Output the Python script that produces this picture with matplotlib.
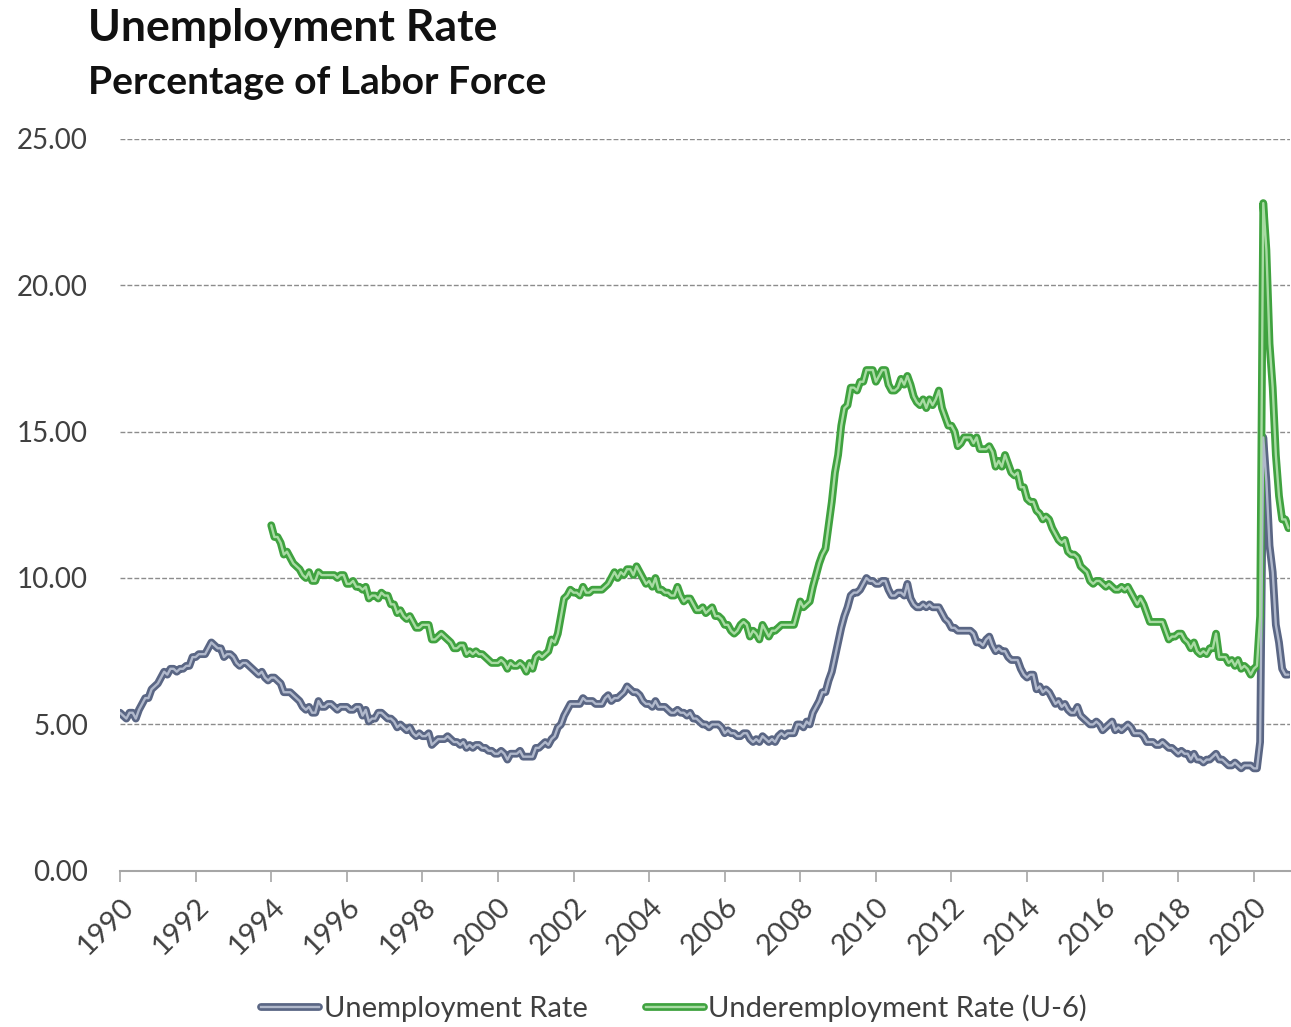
import numpy as np
import matplotlib
matplotlib.use("Agg")
import matplotlib.pyplot as plt
from matplotlib.lines import Line2D
from matplotlib.legend_handler import HandlerTuple

# Monthly civilian unemployment rate (U-3), Jan 1990 - Dec 2020, percent
unemployment = [
    5.4, 5.3, 5.2, 5.4, 5.4, 5.2, 5.5, 5.7, 5.9, 5.9, 6.2, 6.3,
    6.4, 6.6, 6.8, 6.7, 6.9, 6.9, 6.8, 6.9, 6.9, 7.0, 7.0, 7.3,
    7.3, 7.4, 7.4, 7.4, 7.6, 7.8, 7.7, 7.6, 7.6, 7.3, 7.4, 7.4,
    7.3, 7.1, 7.0, 7.1, 7.1, 7.0, 6.9, 6.8, 6.7, 6.8, 6.6, 6.5,
    6.6, 6.6, 6.5, 6.4, 6.1, 6.1, 6.1, 6.0, 5.9, 5.8, 5.6, 5.5,
    5.6, 5.4, 5.4, 5.8, 5.6, 5.6, 5.7, 5.7, 5.6, 5.5, 5.6, 5.6,
    5.6, 5.5, 5.5, 5.6, 5.6, 5.3, 5.5, 5.1, 5.2, 5.2, 5.4, 5.4,
    5.3, 5.2, 5.2, 5.1, 4.9, 5.0, 4.9, 4.8, 4.9, 4.7, 4.6, 4.7,
    4.6, 4.6, 4.7, 4.3, 4.4, 4.5, 4.5, 4.5, 4.6, 4.5, 4.4, 4.4,
    4.3, 4.4, 4.2, 4.3, 4.2, 4.3, 4.3, 4.2, 4.2, 4.1, 4.1, 4.0,
    4.0, 4.1, 4.0, 3.8, 4.0, 4.0, 4.0, 4.1, 3.9, 3.9, 3.9, 3.9,
    4.2, 4.2, 4.3, 4.4, 4.3, 4.5, 4.6, 4.9, 5.0, 5.3, 5.5, 5.7,
    5.7, 5.7, 5.7, 5.9, 5.8, 5.8, 5.8, 5.7, 5.7, 5.7, 5.9, 6.0,
    5.8, 5.9, 5.9, 6.0, 6.1, 6.3, 6.2, 6.1, 6.1, 6.0, 5.8, 5.7,
    5.7, 5.6, 5.8, 5.6, 5.6, 5.6, 5.5, 5.4, 5.4, 5.5, 5.4, 5.4,
    5.3, 5.4, 5.2, 5.2, 5.1, 5.0, 5.0, 4.9, 5.0, 5.0, 5.0, 4.9,
    4.7, 4.8, 4.7, 4.7, 4.6, 4.6, 4.7, 4.7, 4.5, 4.4, 4.5, 4.4,
    4.6, 4.5, 4.4, 4.5, 4.4, 4.6, 4.7, 4.6, 4.7, 4.7, 4.7, 5.0,
    5.0, 4.9, 5.1, 5.0, 5.4, 5.6, 5.8, 6.1, 6.1, 6.5, 6.8, 7.3,
    7.8, 8.3, 8.7, 9.0, 9.4, 9.5, 9.5, 9.6, 9.8, 10.0, 9.9, 9.9,
    9.8, 9.8, 9.9, 9.9, 9.6, 9.4, 9.4, 9.5, 9.5, 9.4, 9.8, 9.3,
    9.1, 9.0, 9.0, 9.1, 9.0, 9.1, 9.0, 9.0, 9.0, 8.8, 8.6, 8.5,
    8.3, 8.3, 8.2, 8.2, 8.2, 8.2, 8.2, 8.1, 7.8, 7.8, 7.7, 7.9,
    8.0, 7.7, 7.5, 7.6, 7.5, 7.5, 7.3, 7.2, 7.2, 7.2, 6.9, 6.7,
    6.6, 6.7, 6.7, 6.2, 6.3, 6.1, 6.2, 6.1, 5.9, 5.7, 5.8, 5.6,
    5.7, 5.5, 5.4, 5.4, 5.6, 5.3, 5.2, 5.1, 5.0, 5.0, 5.1, 5.0,
    4.8, 4.9, 5.0, 5.1, 4.8, 4.9, 4.8, 4.9, 5.0, 4.9, 4.7, 4.7,
    4.7, 4.6, 4.4, 4.4, 4.4, 4.3, 4.3, 4.4, 4.3, 4.2, 4.2, 4.1,
    4.0, 4.1, 4.0, 4.0, 3.8, 4.0, 3.8, 3.8, 3.7, 3.8, 3.8, 3.9,
    4.0, 3.8, 3.8, 3.7, 3.6, 3.6, 3.7, 3.6, 3.5, 3.6, 3.6, 3.6,
    3.5, 3.5, 4.4, 14.8, 13.3, 11.1, 10.2, 8.4, 7.8, 6.9, 6.7, 6.7,
]

# Monthly U-6 underemployment rate, Jan 1994 - Dec 2020, percent
underemployment = [
    11.8, 11.4, 11.4, 11.2, 10.8, 10.9, 10.7, 10.5, 10.4, 10.3, 10.1, 10.0,
    10.2, 9.9, 9.9, 10.2, 10.1, 10.1, 10.1, 10.1, 10.1, 10.0, 10.1, 10.1,
    9.8, 9.8, 9.9, 9.7, 9.7, 9.6, 9.7, 9.3, 9.4, 9.4, 9.3, 9.5,
    9.4, 9.4, 9.1, 9.1, 8.8, 8.9, 8.7, 8.6, 8.7, 8.5, 8.3, 8.3,
    8.4, 8.4, 8.4, 7.9, 7.9, 8.0, 8.1, 8.0, 7.9, 7.8, 7.6, 7.6,
    7.7, 7.7, 7.4, 7.5, 7.4, 7.5, 7.4, 7.4, 7.3, 7.2, 7.1, 7.1,
    7.1, 7.2, 7.1, 6.9, 7.1, 7.0, 7.0, 7.1, 7.0, 6.8, 7.1, 6.9,
    7.3, 7.4, 7.3, 7.4, 7.5, 7.9, 7.8, 8.1, 8.7, 9.3, 9.4, 9.6,
    9.5, 9.5, 9.4, 9.7, 9.5, 9.5, 9.6, 9.6, 9.6, 9.6, 9.7, 9.8,
    10.0, 10.2, 10.0, 10.2, 10.1, 10.3, 10.3, 10.1, 10.4, 10.2, 10.0, 9.8,
    9.9, 9.7, 10.0, 9.6, 9.6, 9.5, 9.5, 9.4, 9.4, 9.7, 9.4, 9.2,
    9.3, 9.3, 9.1, 8.9, 8.9, 9.0, 8.8, 8.9, 9.0, 8.7, 8.7, 8.6,
    8.4, 8.4, 8.2, 8.1, 8.2, 8.4, 8.5, 8.4, 8.0, 8.2, 8.1, 7.9,
    8.4, 8.2, 8.0, 8.2, 8.2, 8.3, 8.4, 8.4, 8.4, 8.4, 8.4, 8.8,
    9.2, 9.0, 9.1, 9.2, 9.7, 10.1, 10.5, 10.8, 11.0, 11.8, 12.6, 13.6,
    14.2, 15.2, 15.8, 15.9, 16.5, 16.5, 16.4, 16.7, 16.7, 17.1, 17.1, 17.1,
    16.7, 16.9, 17.1, 17.1, 16.6, 16.4, 16.4, 16.5, 16.8, 16.6, 16.9, 16.6,
    16.2, 16.0, 15.9, 16.1, 15.8, 16.1, 15.9, 16.1, 16.4, 15.8, 15.5, 15.2,
    15.2, 15.0, 14.5, 14.6, 14.8, 14.8, 14.8, 14.6, 14.8, 14.4, 14.4, 14.4,
    14.5, 14.3, 13.8, 14.0, 13.8, 14.2, 13.9, 13.6, 13.5, 13.6, 13.1, 13.1,
    12.7, 12.6, 12.6, 12.3, 12.2, 12.0, 12.1, 12.0, 11.7, 11.5, 11.3, 11.2,
    11.3, 10.9, 10.8, 10.8, 10.7, 10.4, 10.3, 10.2, 9.9, 9.8, 9.9, 9.9,
    9.8, 9.7, 9.8, 9.7, 9.6, 9.6, 9.7, 9.6, 9.7, 9.5, 9.3, 9.1,
    9.3, 9.1, 8.8, 8.5, 8.5, 8.5, 8.5, 8.5, 8.2, 7.9, 8.0, 8.0,
    8.1, 8.1, 7.9, 7.8, 7.6, 7.8, 7.5, 7.4, 7.5, 7.4, 7.6, 7.6,
    8.1, 7.3, 7.3, 7.3, 7.1, 7.2, 7.0, 7.2, 6.9, 7.0, 6.9, 6.7,
    6.9, 7.0, 8.7, 22.8, 21.2, 18.0, 16.5, 14.2, 12.8, 12.0, 12.0, 11.7,
]

start_u3, start_u6 = 1990, 1994
year_ticks = list(range(1990, 2021, 2))
y_ticks = [0, 5, 10, 15, 20, 25]

series_labels = ["Unemployment Rate", "Underemployment Rate (U-6)"]
title = "Unemployment Rate"
subtitle = "Percentage of Labor Force"

# outer / inner colours of the double-stroke lines
u3_outer, u3_inner = "#5a6684", "#b0b8cb"
u6_outer, u6_inner = "#3fa23f", "#a8dba3"

FONT = "Lato"
plt.rcParams["font.family"] = [FONT, "DejaVu Sans"]

fig = plt.figure(figsize=(12.91, 10.27), dpi=100)
ax = fig.add_axes([0.093, 0.152, 0.906, 0.713])

x_u3 = start_u3 + np.arange(len(unemployment)) / 12.0
x_u6 = start_u6 + np.arange(len(underemployment)) / 12.0

outer_w, inner_w = 5.6, 1.7
for x, y, oc, ic in [(x_u3, unemployment, u3_outer, u3_inner),
                     (x_u6, underemployment, u6_outer, u6_inner)]:
    ax.plot(x, y, color=oc, lw=outer_w, solid_joinstyle="round",
            solid_capstyle="round", zorder=3)
    ax.plot(x, y, color=ic, lw=inner_w, solid_joinstyle="round",
            solid_capstyle="round", zorder=4)

ax.set_xlim(1990, 2020.95)
ax.set_ylim(0, 25)

ax.set_yticks(y_ticks)
ax.set_yticklabels([f"{v:.2f}" for v in y_ticks])
ax.set_xticks(year_ticks)
ax.set_xticklabels([str(y) for y in year_ticks], rotation=45, ha="right",
                   rotation_mode="anchor")

for v in y_ticks[1:]:
    ax.axhline(v, color="#8c8c8c", lw=1.0, ls=(0, (3.5, 1.5)), zorder=1)

for s in ["top", "right", "left"]:
    ax.spines[s].set_visible(False)
ax.spines["bottom"].set_color("#a6a6a6")
ax.spines["bottom"].set_linewidth(1.5)

ax.tick_params(axis="y", length=0, pad=23, labelsize=20, labelcolor="#404040")
ax.tick_params(axis="x", length=8, width=1.2, color="#a6a6a6", pad=8,
               labelsize=21, labelcolor="#404040")

fig.text(88 / 1291, 1 - 28 / 1027, title, fontsize=32, fontweight="bold",
         va="center", ha="left", color="#111111")
fig.text(88 / 1291, 1 - 82 / 1027, subtitle, fontsize=28, fontweight="bold",
         va="center", ha="left", color="#111111")

handles = [
    (Line2D([], [], color=u3_outer, lw=outer_w, solid_capstyle="round"),
     Line2D([], [], color=u3_inner, lw=inner_w)),
    (Line2D([], [], color=u6_outer, lw=outer_w, solid_capstyle="round"),
     Line2D([], [], color=u6_inner, lw=inner_w)),
]
fig.legend(handles, series_labels,
           handler_map={tuple: HandlerTuple(ndivide=1, pad=0)},
           loc="center", bbox_to_anchor=(674 / 1291, 1 - 1008 / 1027), ncol=2,
           frameon=False, fontsize=21, handlelength=2.0, handletextpad=0.15,
           columnspacing=2.0, labelcolor="#404040")

fig.savefig("out.png", dpi=100)
